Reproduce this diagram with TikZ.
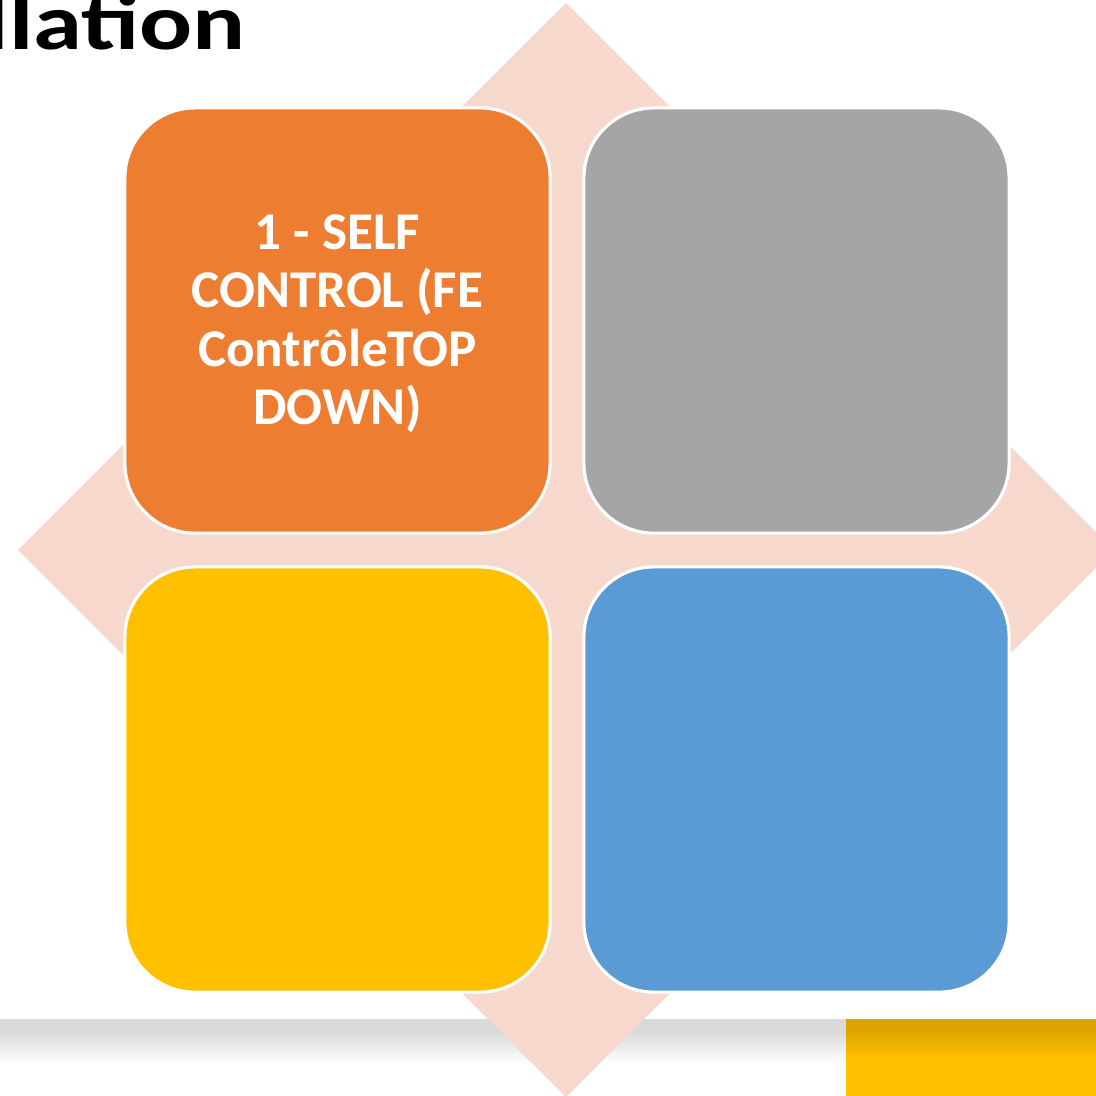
\documentclass[tikz,border=0pt]{standalone}
\usepackage{fontspec}
\setmainfont{Carlito}
\definecolor{quadorange}{HTML}{ED7D31}
\definecolor{quadgray}{HTML}{A5A5A5}
\definecolor{quadyellow}{HTML}{FFC000}
\definecolor{quadblue}{HTML}{5B9BD5}
\definecolor{diamondpink}{HTML}{F7D8CD}
\definecolor{bargray}{HTML}{D9D9D9}
\definecolor{bargold}{HTML}{DBA400}

\begin{document}
\begin{tikzpicture}[x=0.01cm, y=-0.01cm,
    quad/.style={draw=white, line width=0.9pt, rounded corners=0.7cm,
        minimum width=4.25cm, minimum height=4.25cm, inner sep=0pt},
    quadtext/.style={text=white, font=\bfseries\fontsize{15.1}{16.6}\selectfont, align=center}]
    \useasboundingbox (0, 0) rectangle (1096, 1096);
    \clip (0, 0) rectangle (1096, 1096);

    % Bottom bars
    \fill[bargray] (0, 1019) rectangle (846, 1031);
    \shade[top color=bargray, bottom color=white] (0, 1030) rectangle (846, 1064);
    \fill[bargold] (846, 1019) rectangle (1096, 1031);
    \shade[top color=bargold, bottom color=quadyellow] (846, 1030) rectangle (1096, 1058);
    \fill[quadyellow] (846, 1057) rectangle (1096, 1096);

    % Pink diamond behind the boxes
    \fill[diamondpink] (566, 3) -- (1114, 550) -- (566, 1097) -- (18, 550) -- cycle;

    % Four boxes
    \node[quad, fill=quadorange] (self) at (337.5, 320.5) {};
    \node[quad, fill=quadgray] (topright) at (796.5, 320.5) {};
    \node[quad, fill=quadyellow] (bottomleft) at (337.5, 779.5) {};
    \node[quad, fill=quadblue] (bottomright) at (796.5, 779.5) {};
    \node[quadtext] (selflabel) at ([yshift=-0.03cm]self.center)
        {1 - SELF\\CONTROL (FE\\ContrôleTOP\\DOWN)};

    % Title, cut by the page edge
    \node[anchor=base west, inner sep=0pt, font=\bfseries\fontsize{22.5}{26}\selectfont] (title) at (-16, 49) {\scalebox{1.25}[1]{llation}};
\end{tikzpicture}
\end{document}
